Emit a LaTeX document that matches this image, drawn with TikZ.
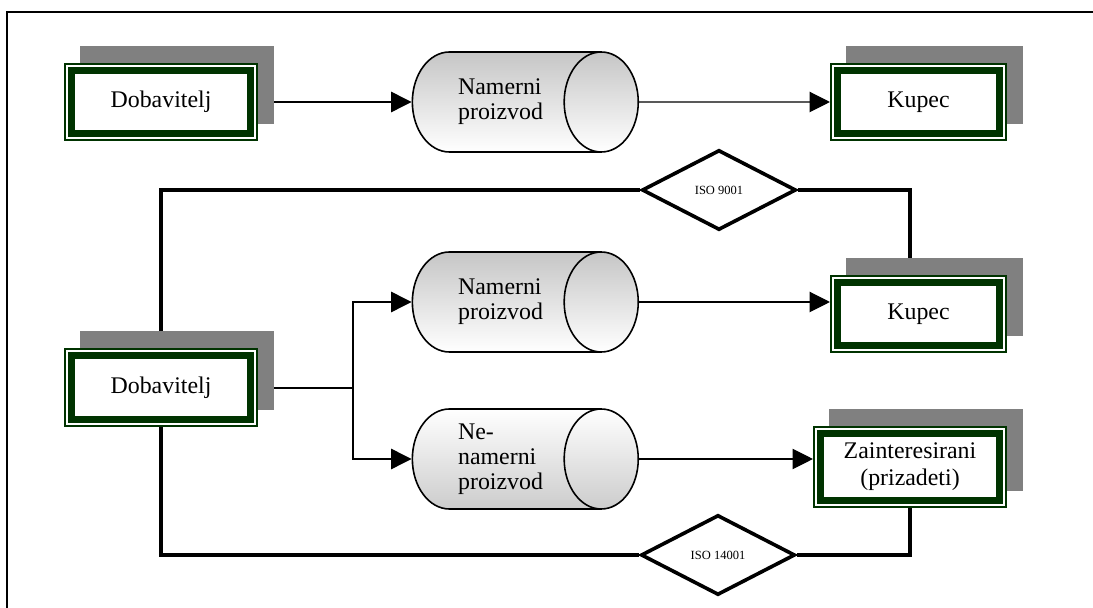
\documentclass[tikz,border=0pt]{standalone}
\usepackage{fontspec}
\setmainfont{Liberation Serif}
\usetikzlibrary{shapes.geometric,arrows.meta,shadows,backgrounds}

\definecolor{dkgreen}{RGB}{0,51,0}
\definecolor{shadowgray}{RGB}{128,128,128}

\tikzset{
  party/.style={draw=dkgreen, line width=3.1pt, fill=white, align=center,
    minimum width=78.8pt, minimum height=28pt, inner sep=0pt, outer sep=3.3pt,
    font=\fontsize{10.5}{12}\selectfont,
    general shadow={fill=shadowgray, draw=shadowgray, line width=6.6pt,
      shadow xshift=7pt, shadow yshift=7.5pt},
    preaction={draw=dkgreen, line width=0.9pt, double=white, double distance=4.8pt}},
  product/.style={cylinder, draw, line width=0.7pt, shape aspect=1,
    minimum width=44pt, minimum height=99.4pt, inner xsep=0pt, inner ysep=16.3pt},
  prodtext/.style={align=left, xshift=5.3pt, font=\fontsize{10.5}{11}\selectfont},
  norm/.style={diamond, draw, line width=1.6pt, fill=white, inner sep=0pt,
    minimum width=67.8pt, minimum height=35.2pt, font=\fontsize{5.5}{6}\selectfont},
  flow/.style={line width=0.5pt, -{Triangle[length=9pt, width=9pt]}},
  link/.style={line width=1.5pt}
}

\begin{document}
\begin{tikzpicture}[x=0.44pt, y=-0.44pt]
\useasboundingbox (0,0) rectangle (1093,608);

% frame
\draw[line width=0.7pt] (7,608) -- (7,12) -- (1093,12);

% upper chain
\node[party] (dobTop) at (161,102) {Dobavitelj};
\node[product, top color=gray!45, bottom color=white,
  label={[prodtext]center:Namerni\\proizvod}] (cylTop) at (488.5,102) {};
\node[party, minimum width=71.3pt] (kupTop) at (918.5,102) {Kupec};

% lower chain
\node[party] (dobMid) at (161,387.5) {Dobavitelj};
\node[product, top color=gray!45, bottom color=white,
  label={[prodtext]center:Namerni\\proizvod}] (cylMid) at (488.5,302) {};
\node[product, top color=white, bottom color=gray!40,
  label={[prodtext]center:Ne-\\namerni\\proizvod}] (cylLow) at (488.5,459) {};
\node[party, minimum width=71.3pt] (kupMid) at (918.5,314) {Kupec};
\node[party, minimum height=29.5pt] (zain) at (910,467) {Zainteresirani\\(prizadeti)};

% standards
\node[norm] (iso9) at (719,190) {ISO 9001};
\node[norm] (iso14) at (718,555) {ISO 14001};

\begin{scope}[on background layer]
\draw[flow] (dobTop.east) -- (cylTop.west);
\draw[flow] (cylTop.east) -- (kupTop.west);

\coordinate (fork) at (353,388);
\draw[line width=0.5pt] (dobMid.east |- fork) -- (fork);
\draw[flow] (fork) |- (cylMid.west);
\draw[flow] (fork) |- (cylLow.west);
\draw[flow] (cylMid.east) -- (cylMid.east -| kupMid.west);
\draw[flow] (cylLow.east) -- (cylLow.east -| zain.west);

\draw[link] (dobMid.north) |- (iso9.west);
\draw[link] (iso9.east) -| (zain.north |- kupMid.north);
\draw[link] (dobMid.south) |- (iso14.west);
\draw[link] (iso14.east) -| (zain.south);
\end{scope}
\end{tikzpicture}
\end{document}
